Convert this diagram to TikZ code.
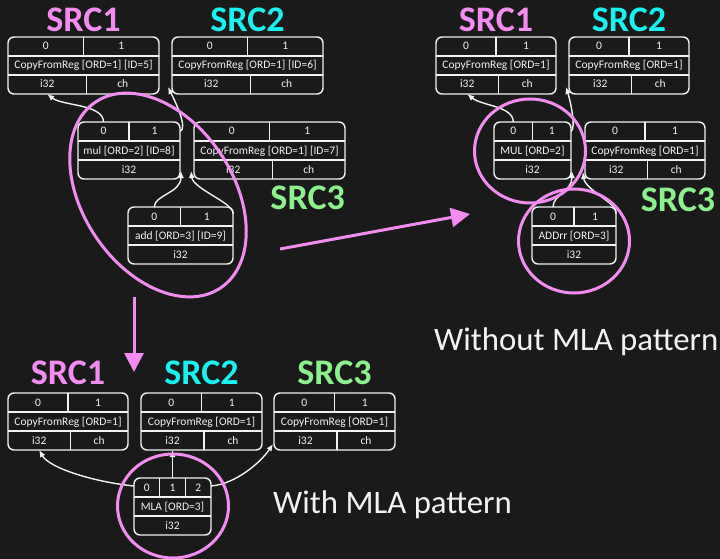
\documentclass[tikz,border=0pt]{standalone}
\usepackage{fontspec}
\setmainfont{Carlito}
\usetikzlibrary{arrows.meta,positioning,calc,shapes.geometric}
\definecolor{Ink}{HTML}{1A1A1A}
\definecolor{Orchid}{HTML}{F38CF0}
\definecolor{Aqua}{HTML}{1AF0F0}
\definecolor{Mint}{HTML}{8CF08C}
\definecolor{Chalk}{HTML}{F2F2F2}

\tikzset{
 sdbox/.style={draw=Chalk,line width=1.4pt,rounded corners=6pt,fill=Ink,
   minimum height=57pt,inner sep=0pt,outer sep=0pt},
 sdline/.style={draw=Chalk,line width=1.2pt},
 sdtext/.style={text=Chalk,inner sep=0pt,text height=8pt,text depth=1pt,
   font=\fontsize{11.5}{13}\selectfont},
 src/.style={inner sep=0pt,font=\fontsize{36}{40}\selectfont\bfseries},
 link/.style={draw=Chalk,line width=1.4pt,-{Latex[length=7pt,width=6pt]}},
 ring/.style={draw=Orchid,line width=3pt,ellipse,inner sep=0pt},
 jump/.style={draw=Orchid,line width=3pt,-{Triangle[length=19pt,width=19pt]}},
 caption/.style={text=Chalk,inner sep=0pt,font=\fontsize{32.8}{38}\selectfont}
}

% DAG node: name, top-left corner, width, operand count, label
\newcommand{\dagnode}[5]{%
  \node[sdbox,minimum width=#3pt,anchor=north west] (#1) at (#2) {};
  \draw[sdline] ([yshift=-19pt]#1.north west) -- ([yshift=-19pt]#1.north east)
    ([yshift=19pt]#1.south west) -- ([yshift=19pt]#1.south east);
  \node[sdtext] at (#1.center) {#5};
  \foreach \k in {1,...,#4}{%
    \pgfmathsetmacro\fa{(\k-1)/#4}\pgfmathsetmacro\fc{(\k-0.5)/#4}%
    \pgfmathtruncatemacro\op{\k-1}%
    \coordinate (#1-\op) at ($(#1.north west)!\fc!(#1.north east)$);
    \node[sdtext] at ([yshift=-9.5pt]#1-\op) {\op};
    \ifnum\k>1 \draw[sdline] ($(#1.north west)!\fa!(#1.north east)$) -- ++(0,19);\fi
  }}
% result rows
\newcommand{\oneres}[1]{%
  \coordinate (#1-r) at (#1.south);
  \node[sdtext] at ([yshift=9.5pt]#1-r) {i32};}
\newcommand{\twores}[1]{%
  \coordinate (#1-r) at ($(#1.south west)!0.26!(#1.south east)$);
  \coordinate (#1-c) at ($(#1.south west)!0.76!(#1.south east)$);
  \draw[sdline] ($(#1.south west)!0.52!(#1.south east)$) -- ++(0,-19);
  \node[sdtext] at ([yshift=9.5pt]#1-r) {i32};
  \node[sdtext] at ([yshift=9.5pt]#1-c) {ch};}

\begin{document}
\begin{tikzpicture}[x=1pt,y=-1pt]
\useasboundingbox[fill=Ink] (0,0) rectangle (720,559);

% before selection
\dagnode{a}{8,37}{151}{2}{CopyFromReg [ORD=1] [ID=5]}\twores{a}
\dagnode{b}{172,37}{151}{2}{CopyFromReg [ORD=1] [ID=6]}\twores{b}
\dagnode{m}{78,122}{102}{2}{mul [ORD=2] [ID=8]}\oneres{m}
\dagnode{d}{194,122}{151}{2}{CopyFromReg [ORD=1] [ID=7]}\twores{d}
\dagnode{e}{128,207}{105}{2}{add [ORD=3] [ID=9]}\oneres{e}
\node[src,text=Orchid,above=5pt of a] (a-lbl) {SRC1};
\node[src,text=Aqua,above=5pt of b] (b-lbl) {SRC2};
\node[src,text=Mint,below left=7pt and 0pt of d.south east] (d-lbl) {SRC3};
\draw[link] (m-0) .. controls +(0,-18) and +(15,12) .. (a-r);
\draw[link] ([yshift=-9.5pt]m.north east) .. controls +(8,-3) and +(8,16) .. ([shift={(-4pt,7pt)}]b.south west);
\draw[link] (e-0) .. controls +(0,-12) and +(0,22) .. ([shift={(1pt,8pt)}]m.south east);
\draw[link] ([yshift=-7pt]e.north east) .. controls +(3,-10) and +(2,18) .. ([shift={(-3pt,8pt)}]d.south west);

% without MLA
\dagnode{f}{436,37}{120}{2}{CopyFromReg [ORD=1]}\twores{f}
\dagnode{g}{569,37}{120}{2}{CopyFromReg [ORD=1]}\twores{g}
\dagnode{p}{494,122}{77}{2}{MUL [ORD=2]}\oneres{p}
\dagnode{q}{585,122}{120}{2}{CopyFromReg [ORD=1]}\twores{q}
\dagnode{s}{532,207}{84}{2}{ADDrr [ORD=3]}\oneres{s}
\node[src,text=Orchid,above=5pt of f] (f-lbl) {SRC1};
\node[src,text=Aqua,above=5pt of g] (g-lbl) {SRC2};
\node[src,text=Mint] (q-lbl) at (678,200) {SRC3};
\draw[link] (p-0) .. controls +(0,-16) and +(15,12) .. (f-r);
\draw[link] ([yshift=-9.5pt]p.north east) .. controls +(5,-3) and +(5,16) .. ([shift={(-3pt,7pt)}]g.south west);
\draw[link] (s-0) .. controls +(0,-12) and +(0,20) .. ([shift={(1pt,8pt)}]p.south east);
\draw[link] ([yshift=-7pt]s.north east) .. controls +(3,-10) and +(2,18) .. ([shift={(-2pt,7pt)}]q.south west);
\node[caption,anchor=base west] (no-mla) at (434,350) {Without MLA pattern};

% with MLA
\dagnode{h}{8,393}{120}{2}{CopyFromReg [ORD=1]}\twores{h}
\dagnode{i}{141,393}{121}{2}{CopyFromReg [ORD=1]}\twores{i}
\dagnode{j}{274,393}{121}{2}{CopyFromReg [ORD=1]}\twores{j}
\dagnode{k}{134,478}{77}{3}{MLA [ORD=3]}\oneres{k}
\node[src,text=Orchid,above=8pt of h] (h-lbl) {SRC1};
\node[src,text=Aqua,above=8pt of i] (i-lbl) {SRC2};
\node[src,text=Mint,above=8pt of j] (j-lbl) {SRC3};
\draw[link] ([yshift=-8pt]k.north west) .. controls +(-40,-4) and +(10,18) .. (h-r);
\draw[link] (k-1) -- (k-1 |- i.south);
\draw[link] ([yshift=-8pt]k.north east) .. controls +(25,-2) and +(-12,18) .. ([shift={(-1pt,6pt)}]j.south west);
\node[caption,anchor=base west] (mla) at (273,513) {With MLA pattern};

% matched groups and steps
\node[ring,minimum width=224pt,minimum height=150pt,rotate=-56] (grp) at (158,195) {};
\node[ring,minimum width=111pt,minimum height=104pt] (grp-mul) at (530,151) {};
\node[ring,minimum width=111pt,minimum height=104pt] (grp-add) at (574,241) {};
\node[ring,minimum width=111pt,minimum height=104pt] (grp-mla) at (173,506) {};
\coordinate (go-r0) at (280,249);
\coordinate (go-r1) at (470,214);
\coordinate (go-d0) at (134,297);
\coordinate (go-d1) at (134,372);
\draw[jump] (go-r0) -- (go-r1);
\draw[jump] (go-d0) -- (go-d1);
\end{tikzpicture}
\end{document}
